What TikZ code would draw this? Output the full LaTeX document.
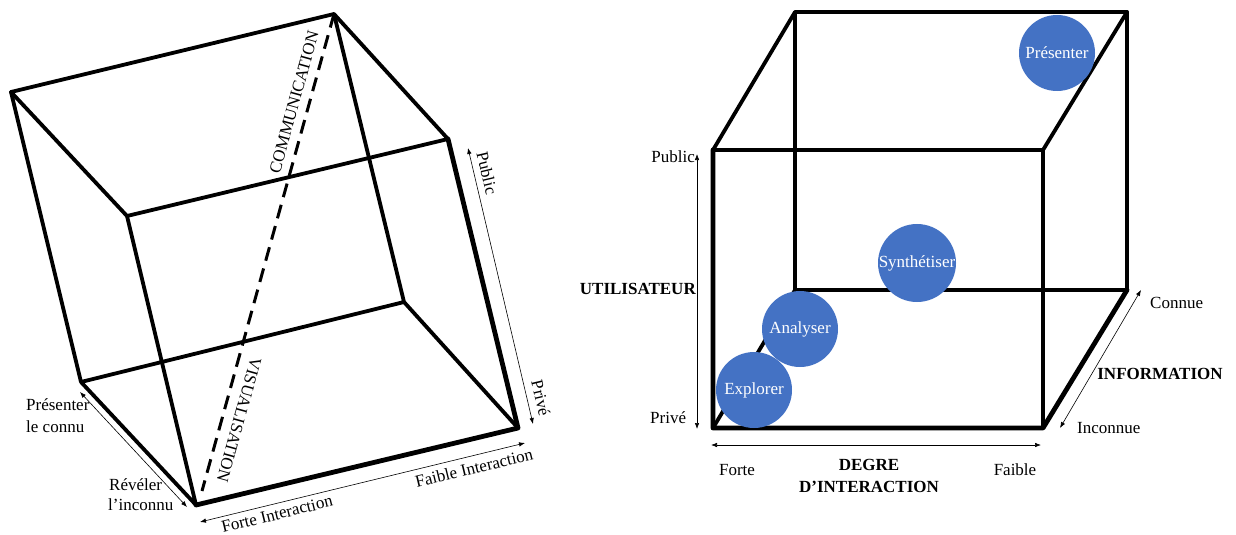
\documentclass[tikz,border=0pt]{standalone}
\usepackage{fontspec}
\setmainfont{Liberation Serif}
\usetikzlibrary{arrows.meta}
\definecolor{cblue}{HTML}{4472C4}
\begin{document}
\begin{tikzpicture}[x=1pt,y=-1pt,
  edge/.style={line width=3.8pt, line join=round, line cap=round},
  heavyedge/.style={line width=4.8pt, line join=round, line cap=round},
  dbl/.style={{Latex[length=6pt,width=4.5pt]}-{Latex[length=6pt,width=4.5pt]}, line width=0.6pt},
  lbl/.style={font=\fontsize{17}{19}\selectfont, inner sep=0pt},
  blbl/.style={inner sep=0pt, font=\fontsize{17}{19}\selectfont\bfseries},
  bubble/.style={circle, fill=cblue, minimum size=76pt, inner sep=0pt, text=white, font=\fontsize{17}{19}\selectfont}
]
\useasboundingbox (0,0) rectangle (1236,535);

% ---------- left cube ----------
\coordinate (A) at (11,92);
\coordinate (B) at (334,14);
\coordinate (C) at (448,139);
\coordinate (D) at (127,216);
\coordinate (E) at (81,382);
\coordinate (F) at (404,302);
\coordinate (G) at (518,428);
\coordinate (H) at (196,505);
\coordinate (dS) at (202,491);

\draw[edge] (A)--(B)--(C)--(D)--cycle;
\draw[edge] (A)--(E) (B)--(F) (D)--(H) (E)--(F) (F)--(G) (H)--(E);
\draw[heavyedge] (C)--(G)--(H);
\draw[line width=3pt, dash pattern=on 14pt off 8pt] (B)--(dS);

\node[lbl, rotate=74.5] (comm) at (294,102) {COMMUNICATION};
\node[lbl, rotate=-105.5] (visu) at (239,420) {VISUALISATION};

% Public / Prive arrow
\coordinate (pA) at (468,148);
\coordinate (pB) at (533,424);
\draw[dbl] (pA)--(pB);
\node[lbl, rotate=-76.7] (lpub) at (487,173) {Public};
\node[lbl, rotate=-76.7] (lpriv) at (541,398) {Privé};

% interaction arrow
\coordinate (iA) at (200,522);
\coordinate (iB) at (525,443);
\draw[dbl] (iA)--(iB);
\node[lbl, rotate=13.7] (lforte) at (277,514) {Forte Interaction};
\node[lbl, rotate=13.7] (lfaible) at (474,468) {Faible Interaction};

% connu / inconnu arrow
\coordinate (cA) at (80,392);
\coordinate (cB) at (187,507);
\draw[dbl] (cA)--(cB);
\node[lbl, anchor=west] (lpres) at (26,405) {Présenter};
\node[lbl, anchor=west] (lconnu) at (26,427) {le connu};
\node[lbl, anchor=west] (lrev) at (109,485) {Révéler};
\node[lbl, anchor=west] (linc) at (108,505) {l’inconnu};

% ---------- right cube ----------
\coordinate (fTL) at (713,150);
\coordinate (fTR) at (1043,150);
\coordinate (fBR) at (1043,428);
\coordinate (fBL) at (713,428);
\coordinate (bTL) at (795,12);
\coordinate (bTR) at (1127,12);
\coordinate (bBR) at (1127,290);
\coordinate (bBL) at (795,290);

\draw[edge] (bTL)--(bTR)--(bBR)--(bBL)--cycle;
\draw[edge] (fTL)--(bTL) (fTR)--(bTR) (fBL)--(bBL);
\draw[edge] (fTL)--(fTR)--(fBR);
\draw[heavyedge] (bBR)--(fBR)--(fBL)--(fTL);

% bubbles
\node[bubble] (pres) at (1057,53) {Présenter};
\node[bubble] (synt) at (917,263) {Synthétiser};
\node[bubble] (anal) at (800,329) {Analyser};
\node[bubble] (expl) at (754,390) {Explorer};

% axes
\coordinate (uT) at (697,154);
\coordinate (uB) at (697,429);
\draw[dbl] (uT)--(uB);
\node[lbl, anchor=east] (rpub) at (695,157) {Public};
\node[lbl, anchor=west] (rpriv) at (650,418) {Privé};
\node[blbl, anchor=east] (util) at (696,289) {UTILISATEUR};

\coordinate (hL) at (711,445);
\coordinate (hR) at (1041,445);
\draw[dbl] (hL)--(hR);
\node[lbl] (rforte) at (737,470) {Forte};
\node[lbl] (rfaible) at (1015,470) {Faible};
\node[blbl] (degre) at (869,465) {DEGRE};
\node[blbl] (dint) at (869,487) {D'INTERACTION};

\coordinate (nA) at (1060,428);
\coordinate (nB) at (1141,290);
\draw[dbl] (nA)--(nB);
\node[lbl, anchor=west] (conn) at (1150,303) {Connue};
\node[lbl, anchor=west] (inconn) at (1077,428) {Inconnue};
\node[blbl] (info) at (1160,374) {INFORMATION};
\end{tikzpicture}
\end{document}
